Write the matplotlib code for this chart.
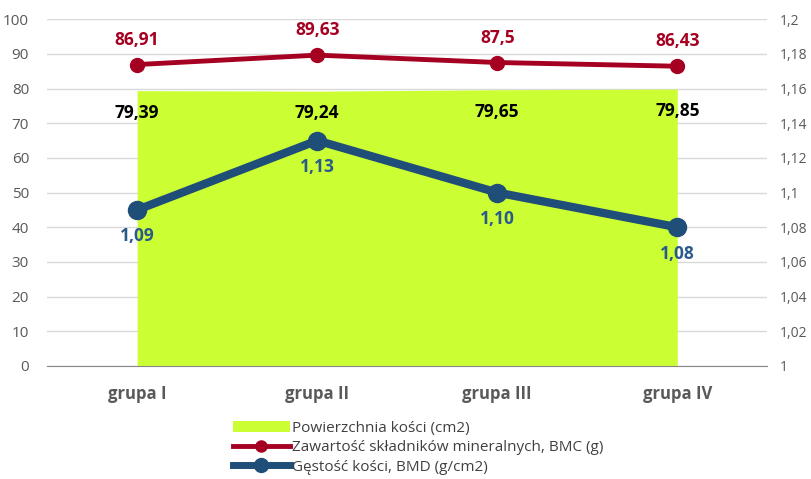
#!/usr/bin/env python3

import matplotlib
matplotlib.use("Agg")
import matplotlib.pyplot as plt
from matplotlib.lines import Line2D
from matplotlib.patches import Patch

# dane
groups = ["grupa I", "grupa II", "grupa III", "grupa IV"]
area_vals = [79.39, 79.24, 79.65, 79.85]
bmc_vals = [86.91, 89.63, 87.5, 86.43]
bmd_vals = [1.09, 1.13, 1.10, 1.08]
area_labels = ["79,39", "79,24", "79,65", "79,85"]
bmc_labels = ["86,91", "89,63", "87,5", "86,43"]
bmd_labels = ["1,09", "1,13", "1,10", "1,08"]
left_ticks = [0, 10, 20, 30, 40, 50, 60, 70, 80, 90, 100]
right_ticks = [1, 1.02, 1.04, 1.06, 1.08, 1.1, 1.12, 1.14, 1.16, 1.18, 1.2]
right_tick_labels = ["1", "1,02", "1,04", "1,06", "1,08", "1,1", "1,12", "1,14", "1,16", "1,18", "1,2"]

green = "#CCFF33"
red = "#A50021"
blue = "#1F4E79"
gray = "#595959"


def main():
    plt.rcParams["font.family"] = ["Open Sans", "DejaVu Sans"]
    fig = plt.figure(figsize=(8.12, 4.79), dpi=100)
    ax = fig.add_axes([0.058, 0.236, 0.887, 0.724])
    ax2 = ax.twinx()
    x = list(range(len(groups)))

    # pole powierzchni
    ax.fill_between(x, 0, area_vals, color=green, lw=0, zorder=2)
    ax.plot(x, bmc_vals, color=red, lw=3.5, marker="o", ms=10, zorder=4)
    ax2.plot(x, bmd_vals, color=blue, lw=6, marker="o", ms=13, zorder=4)

    for i in x:
        ax.annotate(area_labels[i], (i, area_vals[i]), xytext=(0, -16), textcoords="offset points",
                    ha="center", va="center", fontsize=12.5, fontweight="bold", color="black", zorder=5)
        ax.annotate(bmc_labels[i], (i, bmc_vals[i]), xytext=(0, 18), textcoords="offset points",
                    ha="center", va="center", fontsize=12.5, fontweight="bold", color=red, zorder=5)
        ax2.annotate(bmd_labels[i], (i, bmd_vals[i]), xytext=(0, -19), textcoords="offset points",
                     ha="center", va="center", fontsize=12.5, fontweight="bold", color="#2A5A8C", zorder=5)

    ax.set_xlim(-0.5, 3.5)
    ax.set_ylim(0, 100)
    ax2.set_ylim(1, 1.2)
    ax.set_yticks(left_ticks)
    ax2.set_yticks(right_ticks)
    ax2.set_yticklabels(right_tick_labels)
    ax.set_xticks(x)
    ax.set_xticklabels(groups, fontsize=12, fontweight="bold", color=gray)
    ax.tick_params(axis="x", length=0, pad=14)
    ax.tick_params(axis="y", length=0, labelsize=11, labelcolor=gray, pad=13)
    ax2.tick_params(axis="y", length=0, labelsize=10, labelcolor=gray, pad=9)
    ax.grid(axis="y", color="#D9D9D9", lw=1, zorder=0)
    ax.set_axisbelow(True)
    ax.set_zorder(ax2.get_zorder() - 1)
    ax2.patch.set_visible(False)
    for a in (ax, ax2):
        for s in ["top", "left", "right"]:
            a.spines[s].set_visible(False)
    ax.spines["bottom"].set_color("#868686")
    ax2.spines["bottom"].set_visible(False)

    handles = [
        Patch(facecolor=green, edgecolor="none"),
        Line2D([], [], color=red, lw=3.5, marker="o", ms=8),
        Line2D([], [], color=blue, lw=5, marker="o", ms=10),
    ]
    names = [
        "Powierzchnia kości (cm2)",
        "Zawartość składników mineralnych, BMC (g)",
        "Gęstość kości, BMD (g/cm2)",
    ]
    fig.legend(handles, names, loc="upper left", bbox_to_anchor=(0.287, 0.122), frameon=False,
               fontsize=11, labelcolor="#404040", handlelength=3.7, handletextpad=0.15,
               labelspacing=0.3, borderpad=0, borderaxespad=0)

    plt.savefig("out.png", dpi=100)


if __name__ == "__main__":
    main()
